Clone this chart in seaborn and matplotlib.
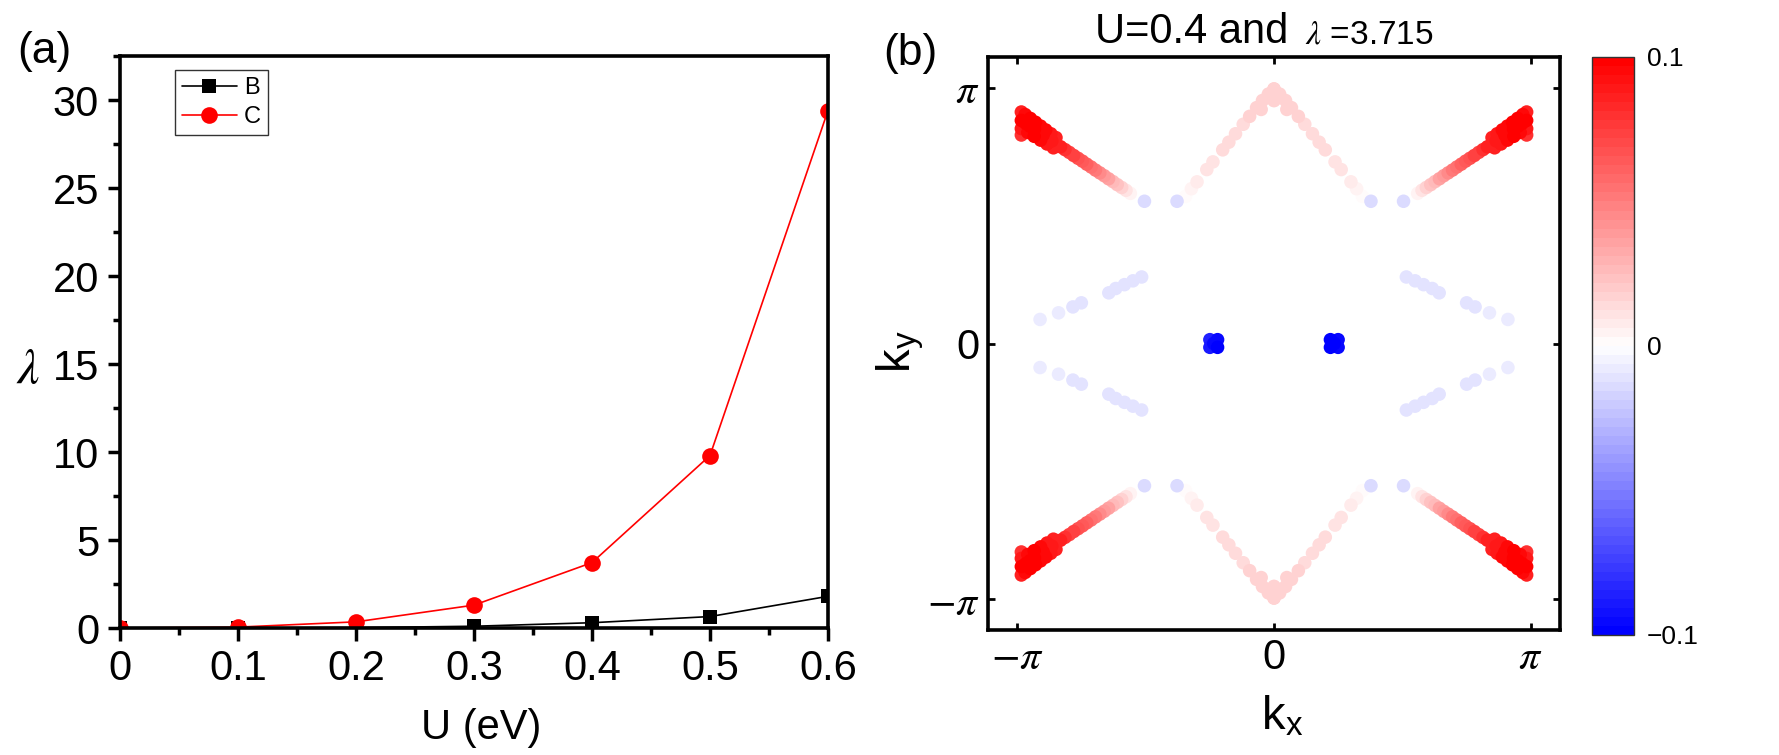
import numpy as np
import pandas as pd
import matplotlib
matplotlib.use('Agg')
import matplotlib.pyplot as plt
import seaborn as sns
from matplotlib.colors import Normalize
from matplotlib.cm import ScalarMappable
from matplotlib.ticker import MultipleLocator

# ---- panel (a) data ----
U = [0.0, 0.1, 0.2, 0.3, 0.4, 0.5, 0.6]
lam_B = [0.0, 0.0, 0.02, 0.1, 0.3, 0.65, 1.8]
lam_C = [0.0, 0.05, 0.35, 1.3, 3.715, 9.8, 29.4]
u_ticks = [0, 0.1, 0.2, 0.3, 0.4, 0.5, 0.6]
u_labels = ['0', '0.1', '0.2', '0.3', '0.4', '0.5', '0.6']
lam_ticks = [0, 5, 10, 15, 20, 25, 30]

# ---- panel (b) data, upper-left quadrant (kx/pi, ky/pi, value) ----
# the map in the picture is mirror symmetric in kx and in ky
kx_q = [-0.985, -0.968, -0.951, -0.934, -0.917, -0.900, -0.883, -0.866, -0.849, -0.832,
        -0.815, -0.798, -0.781, -0.764, -0.747, -0.730, -0.713, -0.696, -0.679, -0.662,
        -0.645, -0.628, -0.611, -0.594, -0.577, -0.560,
        -0.985, -0.985, -0.970, -0.950, -0.930, -0.910, -0.890, -0.870, -0.850,
        -0.985, -0.960, -0.935, -0.910, -0.885, -0.860,
        -0.505, -0.378,
        -0.345, -0.322, -0.300, -0.262, -0.238, -0.200, -0.176, -0.150, -0.120,
        -0.095, -0.068, -0.045, -0.022, 0.0, -0.050, 0.0,
        -0.516, -0.550, -0.583, -0.617, -0.644, -0.751, -0.784, -0.840, -0.912]
ky_q = [0.872, 0.861, 0.849, 0.838, 0.826, 0.815, 0.804, 0.792, 0.781, 0.769,
        0.758, 0.747, 0.735, 0.724, 0.713, 0.701, 0.690, 0.678, 0.667, 0.656,
        0.644, 0.633, 0.621, 0.610, 0.599, 0.587,
        0.905, 0.840, 0.895, 0.880, 0.865, 0.850, 0.835, 0.820, 0.805,
        0.815, 0.825, 0.810, 0.795, 0.780, 0.765,
        0.556, 0.556,
        0.575, 0.605, 0.632, 0.680, 0.710, 0.757, 0.787, 0.820, 0.857,
        0.888, 0.922, 0.950, 0.975, 0.995, 0.915, 0.950,
        0.260, 0.245, 0.230, 0.215, 0.198, 0.159, 0.143, 0.120, 0.094]
val_q = [0.100, 0.100, 0.100, 0.100, 0.095, 0.095, 0.090, 0.090, 0.085, 0.085,
         0.080, 0.075, 0.072, 0.068, 0.064, 0.060, 0.055, 0.050, 0.045, 0.040,
         0.035, 0.028, 0.022, 0.016, 0.010, 0.005,
         0.085, 0.090, 0.095, 0.100, 0.100, 0.095, 0.095, 0.090, 0.085,
         0.080, 0.095, 0.100, 0.095, 0.090, 0.085,
         -0.015, -0.015,
         0.003, 0.005, 0.008, 0.010, 0.012, 0.013, 0.014, 0.015, 0.015,
         0.016, 0.016, 0.017, 0.018, 0.018, 0.016, 0.017,
         -0.012, -0.012, -0.011, -0.011, -0.010, -0.010, -0.010, -0.009, -0.009]
# strong blue pockets on the ky = 0 line
kx_c = [-0.250, -0.250, -0.220, -0.220, -0.235, 0.220, 0.220, 0.250, 0.250, 0.235]
ky_c = [0.015, -0.015, 0.015, -0.015, 0.0, 0.015, -0.015, 0.015, -0.015, 0.0]
val_c = [-0.085, -0.090, -0.095, -0.100, -0.095, -0.100, -0.100, -0.095, -0.095, -0.100]

kq, yq, vq = np.array(kx_q), np.array(ky_q), np.array(val_q)
df = pd.DataFrame({
    'kx': np.concatenate([kq, -kq, kq, -kq, kx_c]) * np.pi,
    'ky': np.concatenate([yq, yq, -yq, -yq, ky_c]) * np.pi,
    'v': np.concatenate([vq, vq, vq, vq, val_c]),
})
df = df.iloc[np.argsort(np.abs(df['v'].values), kind='stable')]

sns.set_style('ticks', {'axes.edgecolor': 'black', 'xtick.color': 'black',
                        'ytick.color': 'black', 'text.color': 'black',
                        'axes.labelcolor': 'black'})
plt.rcParams['font.family'] = ['Liberation Sans Narrow', 'Liberation Sans', 'DejaVu Sans']
plt.rcParams['mathtext.fontset'] = 'stix'

fig = plt.figure(figsize=(17.79, 7.55), dpi=100)
W, H = 1779, 755
ax1 = fig.add_axes([120 / W, 1 - 628 / H, 708 / W, 572 / H])
ax2 = fig.add_axes([988 / W, 1 - 630 / H, 572 / W, 573 / H])
cax = fig.add_axes([1592 / W, 1 - 635 / H, 42 / W, 578 / H])

# ---- (a) ----
sns.lineplot(x=U, y=lam_B, ax=ax1, color='black', marker='s', markersize=10,
             markeredgewidth=0, linewidth=1.2, label='B')
sns.lineplot(x=U, y=lam_C, ax=ax1, color='red', marker='o', markersize=12,
             markeredgewidth=0, linewidth=1.2, label='C')
ax1.set_xlim(0, 0.6)
ax1.set_ylim(0, 32.5)
ax1.set_xticks(u_ticks)
ax1.set_xticklabels(u_labels)
ax1.set_yticks(lam_ticks)
ax1.xaxis.set_minor_locator(MultipleLocator(0.05))
ax1.yaxis.set_minor_locator(MultipleLocator(2.5))
ax1.tick_params(which='major', direction='out', length=9, width=2.5, labelsize=30, pad=6)
ax1.tick_params(which='minor', direction='out', length=5, width=2.5)
ax1.tick_params(top=False, right=False)
for sp in ax1.spines.values():
    sp.set_linewidth(2.6)
ax1.set_xlabel('')
ax1.set_ylabel('')
leg = ax1.legend(loc='upper left', bbox_to_anchor=(0.078, 0.976), fontsize=17,
                 frameon=True, fancybox=False, edgecolor='black', handlelength=2.3,
                 borderpad=0.3, labelspacing=0.3, handletextpad=0.3, borderaxespad=0)
leg.get_frame().set_linewidth(1.0)

fig.text(44 / W, 1 - 52 / H, '(a)', fontsize=32, ha='center', va='center')
fig.text(28 / W, 1 - 370 / H, r'$\lambda$', fontsize=36, ha='center', va='center')
fig.text(481 / W, 1 - 728 / H, 'U (eV)', fontsize=30, ha='center', va='center')

# ---- (b) ----
cmap = matplotlib.colormaps['bwr'].resampled(64)
norm = Normalize(-0.1, 0.1)
sns.scatterplot(data=df, x='kx', y='ky', hue='v', palette=cmap, hue_norm=norm,
                s=95, linewidth=0, legend=False, ax=ax2)
lim = 1.115 * np.pi
ax2.set_xlim(-lim, lim)
ax2.set_ylim(-1.12 * np.pi, 1.12 * np.pi)
ax2.set_xticks([-np.pi, 0, np.pi])
ax2.set_xticklabels([r'$-\pi$', '0', r'$\pi$'])
ax2.set_yticks([-np.pi, 0, np.pi])
ax2.set_yticklabels([r'$-\pi$', '0', r'$\pi$'])
ax2.tick_params(direction='in', length=5, width=2, top=True, right=True,
                labelsize=30, pad=6)
for sp in ax2.spines.values():
    sp.set_linewidth(2.6)
ax2.set_xlabel('')
ax2.set_ylabel('')
fig.text(1282 / W, 1 - 718 / H, r'k$_{\mathregular{x}}$', fontsize=34, ha='center', va='center')
fig.text(900 / W, 1 - 352 / H, r'k$_{\mathregular{y}}$', fontsize=34, ha='center',
         va='center', rotation=90)
fig.text(910 / W, 1 - 54 / H, '(b)', fontsize=32, ha='center', va='center')
fig.text(1300 / W, 1 - 43 / H, 'U=0.4 and ', fontsize=30, ha='right', va='baseline')
fig.text(1305 / W, 1 - 43 / H, r'$\lambda$ =3.715', fontsize=24, ha='left', va='baseline')

sm = ScalarMappable(norm=norm, cmap=cmap)
cb = fig.colorbar(sm, cax=cax, ticks=[-0.1, 0, 0.1])
cb.ax.set_yticklabels(['\u22120.1', '0', '0.1'], family=['Liberation Sans', 'DejaVu Sans'],
                      fontsize=19)
cb.ax.yaxis.set_minor_locator(MultipleLocator(0.02))
cb.ax.tick_params(which='both', direction='in', left=True, right=True, length=5,
                  width=1, color='#333333')
cb.ax.tick_params(which='major', length=0, pad=9)
cb.outline.set_linewidth(1.0)
cb.outline.set_edgecolor('#333333')

fig.savefig('out.png', dpi=100)
